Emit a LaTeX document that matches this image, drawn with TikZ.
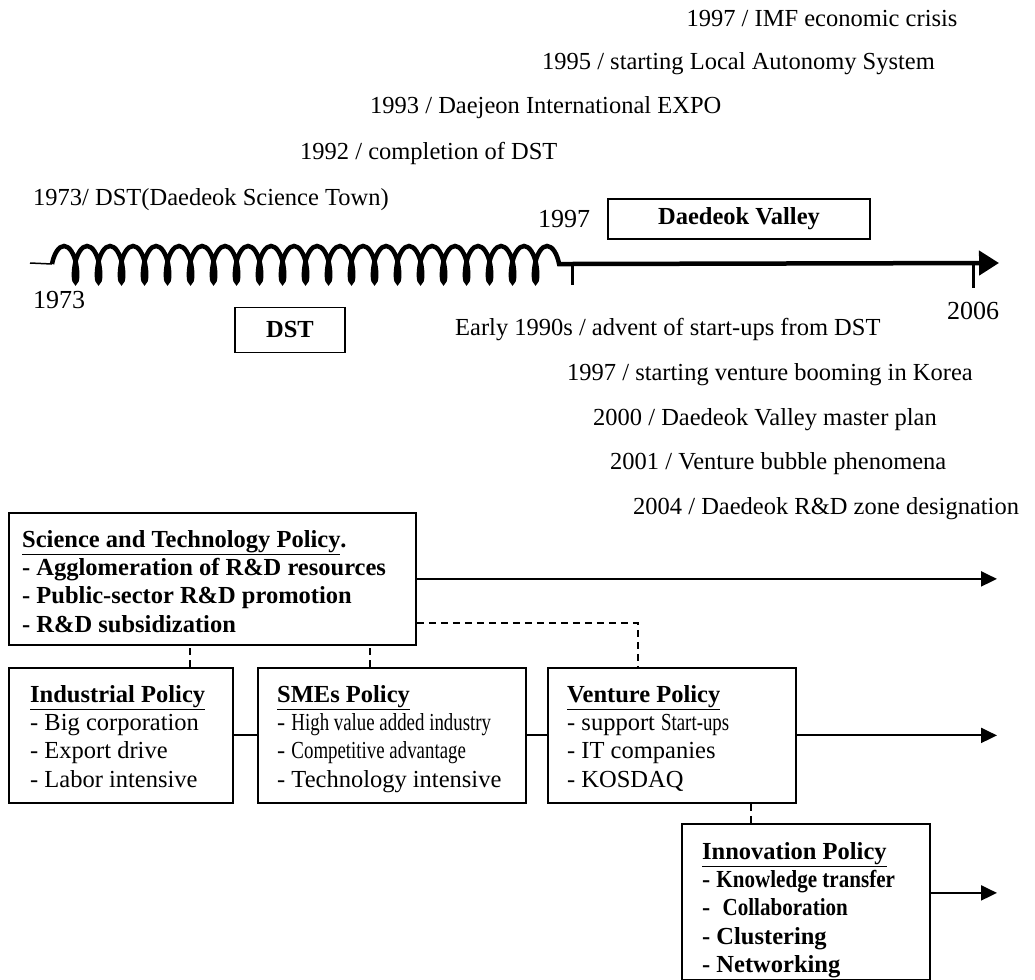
\documentclass[tikz,border=0pt]{standalone}
\usepackage{fontspec}
\setmainfont{Liberation Serif}
\newfontfamily\nrw[FakeStretch=0.77]{Liberation Serif}
\newfontfamily\nrwb[FakeStretch=0.86]{Liberation Serif}
\usetikzlibrary{arrows.meta,decorations.pathmorphing}
\begin{document}
\begin{tikzpicture}[x=1pt,y=-1pt,
  box/.style={draw, line width=1.8pt, inner sep=0pt, anchor=north west},
  txt/.style={inner sep=0pt, align=left, anchor=north west, font=\fontsize{24.5}{28.3}\selectfont},
  lbl/.style={inner sep=0pt, font=\fontsize{24.5}{28}\selectfont},
  yr/.style={inner sep=0pt, font=\fontsize{26}{28}\selectfont},
  arr/.style={line width=2pt, -{Triangle[length=16pt,width=15pt]}},
  dsh/.style={line width=2pt, dash pattern=on 7pt off 5pt},
  link/.style={line width=2pt},
  wave/.style={line width=4.5pt, decorate, decoration={coil, amplitude=18pt, segment length=23pt, aspect=0.35}},
  axis/.style={line width=4.5pt, -{Triangle[length=20pt,width=24pt]}}
]
\useasboundingbox (0,0) rectangle (1035,979);

% --- timeline labels above
\node[lbl] (l1) at (822,19) {1997 / IMF economic crisis};
\node[lbl, anchor=east] (l2) at (935,64) {1995 / starting Local Autonomy System};
\node[lbl, anchor=west] (l3) at (370,108) {1993 / Daejeon International EXPO};
\node[lbl, anchor=west] (l4) at (300,153) {1992 / completion of DST};
\node[lbl, anchor=west] (l5) at (33,200) {1973/ DST(Daedeok Science Town)};
\node[yr, anchor=west] (y1997) at (538,219) {1997};
\node[draw, line width=1.8pt, minimum width=262pt, minimum height=40pt, font=\fontsize{24.5}{28}\selectfont\bfseries] (dv) at (739,219) {Daedeok Valley};

% --- timeline
\coordinate (t0) at (30,263);
\coordinate (w0) at (52,264);
\coordinate (w1) at (572,264);
\coordinate (tend) at (999,263);
\draw[line width=1.5pt] (t0) -- (w0);
\draw[wave] (w0) -- (w1);
\draw[axis] (w1) -- (tend);
\draw[line width=3pt] (572,263) -- (572,285);
\draw[line width=3pt] (973,263) -- (973,288);

% --- labels below
\node[yr, anchor=west] (y1973) at (33,300) {1973};
\node[yr, anchor=west] (y2006) at (947,311) {2006};
\node[draw, line width=1.8pt, minimum width=110pt, minimum height=45pt, font=\fontsize{24.5}{28}\selectfont\bfseries] (dst) at (290,330) {DST};
\node[lbl, anchor=west] (b1) at (455,330) {Early 1990s / advent of start-ups from DST};
\node[lbl, anchor=west] (b2) at (567,375) {1997 / starting venture booming in Korea};
\node[lbl, anchor=west] (b3) at (593,420) {2000 / Daedeok Valley master plan};
\node[lbl, anchor=west] (b4) at (610,464) {2001 / Venture bubble phenomena};
\node[lbl, anchor=west] (b5) at (633,509) {2004 / Daedeok R\&D zone designation};

% --- policy boxes
\node[box, minimum width=407pt, minimum height=132pt] (sci) at (8,512) {};
\node[txt] (scit) at (22,530) {\bfseries\underline{Science and Technology Policy}.\\\bfseries - Agglomeration of R\&D resources\\\bfseries - Public-sector R\&D promotion\\\bfseries - R\&D subsidization};

\node[box, minimum width=224pt, minimum height=135pt] (ind) at (8,667) {};
\node[txt] (indt) at (30,685) {\bfseries\underline{Industrial Policy}\\- Big corporation\\- Export drive\\- Labor intensive};

\node[box, minimum width=268pt, minimum height=135pt] (sme) at (257,667) {};
\node[txt] (smet) at (277,685) {\bfseries\underline{SMEs Policy}\\- {\nrw High value added industry}\\- {\nrw Competitive advantage}\\- Technology intensive};

\node[box, minimum width=248pt, minimum height=135pt] (ven) at (547,667) {};
\node[txt] (vent) at (567,685) {\bfseries\underline{Venture Policy}\\- support {\nrw Start-ups}\\- IT companies\\- KOSDAQ};

\node[box, minimum width=248pt, minimum height=156pt] (inn) at (681,823) {};
\node[txt] (innt) at (702,842) {\bfseries\underline{Innovation Policy}\\\bfseries - {\nrwb\bfseries Knowledge transfer}\\\bfseries -\ \ {\nrwb\bfseries Collaboration}\\\bfseries - Clustering\\\bfseries - Networking};

% --- connectors
\coordinate (ex) at (997,0);
\draw[arr] (sci.east) -- (sci.east -| ex);
\draw[arr] (ven.east) -- (ven.east -| ex);
\draw[arr] ([yshift=9pt]inn.east) -- ([yshift=9pt]inn.east -| ex);
\draw[dsh] ([yshift=-44pt]sci.east) -| ([xshift=-34pt]ven.north);
\draw[dsh] ([xshift=69pt]ind.north) -- ([xshift=69pt]ind.north |- sci.south);
\draw[dsh] ([xshift=-22pt]sme.north) -- ([xshift=-22pt]sme.north |- sci.south);
\draw[dsh] ([xshift=79pt]ven.south) -- ([xshift=79pt]ven.south |- inn.north);
\draw[link] (ind.east) -- (sme.west);
\draw[link] (sme.east) -- (ven.west);
\end{tikzpicture}
\end{document}
